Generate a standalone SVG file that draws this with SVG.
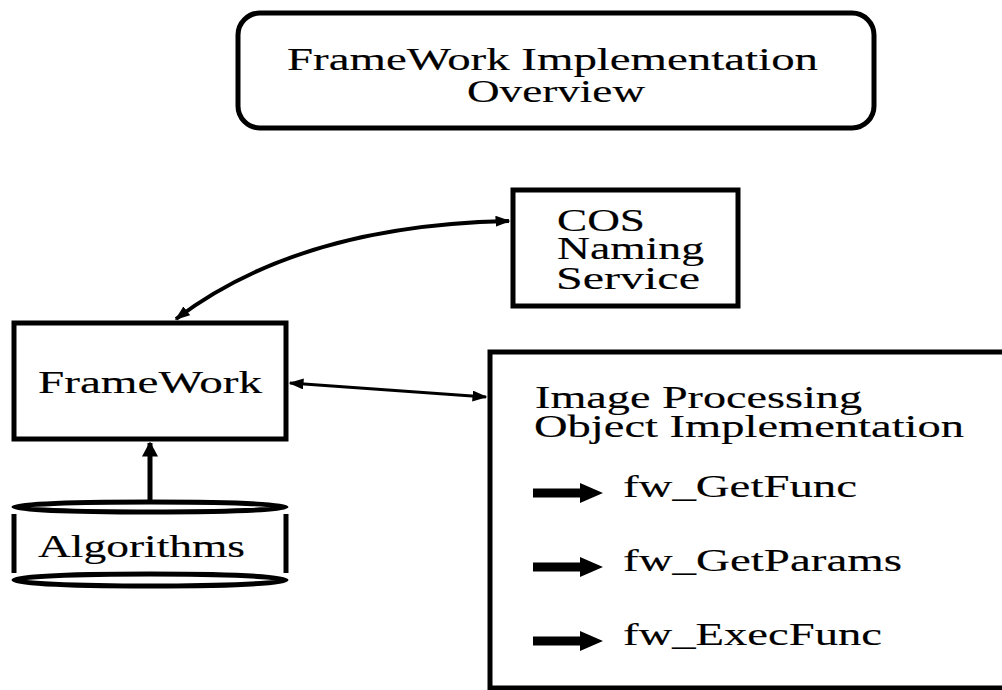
<svg xmlns="http://www.w3.org/2000/svg" width="1002" height="690" viewBox="0 0 1002 690">
<style>
text{font-family:"Liberation Serif","Times New Roman",Times,serif;font-size:32px;fill:#000;stroke:#000;stroke-width:0.15}
.box{fill:#fff;stroke:#000;stroke-width:5}
.ln{fill:none;stroke:#000;stroke-width:4}
.side{fill:none;stroke:#000;stroke-width:5}
.thin{fill:none;stroke:#000;stroke-width:3}
</style>
<defs>
<marker id="ah" viewBox="0 0 10 10" refX="9" refY="5" markerWidth="15" markerHeight="11" orient="auto-start-reverse" markerUnits="userSpaceOnUse" preserveAspectRatio="none">
<path d="M0,0 L10,5 L0,10 Z" fill="#000"/>
</marker>
<marker id="ahv" viewBox="0 0 10 10" refX="9" refY="5" markerWidth="15" markerHeight="16" orient="auto" markerUnits="userSpaceOnUse" preserveAspectRatio="none">
<path d="M0,0 L10,5 L0,10 Z" fill="#000"/>
</marker>
<path id="bullet" d="M0,-4.5 L47,-4.5 L47,-10 L70,0 L47,10 L47,4.5 L0,4.5 Z" fill="#000"/>
</defs>
<rect width="1002" height="690" fill="#fff"/>
<g id="title">
<rect class="box" x="238" y="13" width="636" height="115" rx="22"/>
<text x="287" y="70" textLength="531" lengthAdjust="spacingAndGlyphs" style="font-size:31px">FrameWork Implementation</text>
<text x="467" y="102" textLength="178" lengthAdjust="spacingAndGlyphs" style="font-size:31px">Overview</text>
</g>
<g id="cos">
<rect class="box" x="513" y="190" width="225" height="116"/>
<text x="557" y="231" textLength="88" lengthAdjust="spacingAndGlyphs">COS</text>
<text x="557" y="259" textLength="147" lengthAdjust="spacingAndGlyphs">Naming</text>
<text x="556" y="289" textLength="144" lengthAdjust="spacingAndGlyphs">Service</text>
</g>
<g id="framework">
<rect class="box" x="14" y="323" width="272" height="116"/>
<text x="38" y="393" textLength="224" lengthAdjust="spacingAndGlyphs">FrameWork</text>
</g>
<g id="algorithms">
<line class="side" x1="14" y1="514" x2="14" y2="573"/>
<line class="side" x1="286" y1="514" x2="286" y2="573"/>
<ellipse class="side" cx="150" cy="507" rx="136" ry="5"/>
<ellipse class="side" cx="150" cy="580" rx="136" ry="6"/>
<text x="38" y="557" textLength="207" lengthAdjust="spacingAndGlyphs">Algorithms</text>
</g>
<g id="image-processing">
<path class="box" d="M1004,352 L490,352 L490,688 L1004,688"/>
<text x="535" y="408" textLength="327" lengthAdjust="spacingAndGlyphs">Image Processing</text>
<text x="534" y="437" textLength="430" lengthAdjust="spacingAndGlyphs">Object Implementation</text>
<use href="#bullet" x="533" y="493"/>
<text x="623" y="497" textLength="234" lengthAdjust="spacingAndGlyphs">fw_GetFunc</text>
<use href="#bullet" x="533" y="567"/>
<text x="623" y="571" textLength="279" lengthAdjust="spacingAndGlyphs">fw_GetParams</text>
<use href="#bullet" x="533" y="641"/>
<text x="623" y="645" textLength="259" lengthAdjust="spacingAndGlyphs">fw_ExecFunc</text>
</g>
<g id="connectors">
<path class="ln" d="M176,319 Q300,225 509,221" marker-start="url(#ah)" marker-end="url(#ah)"/>
<line class="thin" x1="290" y1="383" x2="486" y2="397" marker-start="url(#ah)" marker-end="url(#ah)"/>
<line class="side" x1="150" y1="503" x2="150" y2="443" marker-end="url(#ahv)"/>
</g>
</svg>
